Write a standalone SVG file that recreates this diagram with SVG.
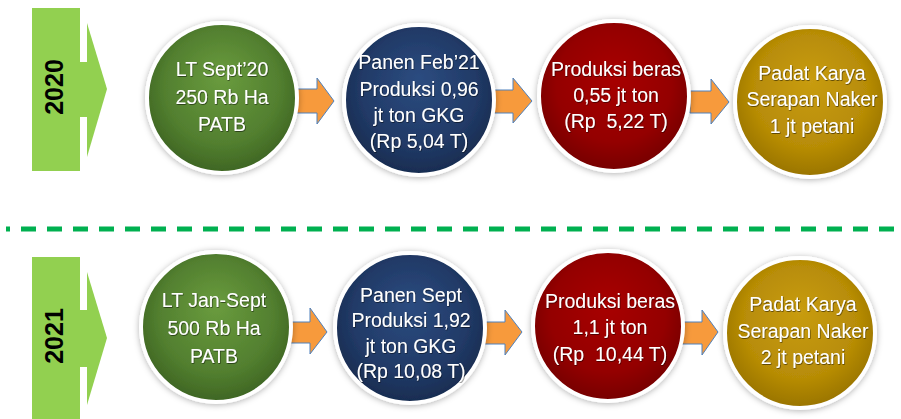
<svg xmlns="http://www.w3.org/2000/svg" width="901" height="419" viewBox="0 0 901 419">
<defs>
<radialGradient id="gGreen" cx="50%" cy="45%" r="55%" fx="50%" fy="35%">
<stop offset="0" stop-color="#6A9C3E"/><stop offset="0.7" stop-color="#527F2F"/><stop offset="1" stop-color="#3E6523"/>
</radialGradient>
<radialGradient id="gBlue" cx="50%" cy="45%" r="55%" fx="50%" fy="35%">
<stop offset="0" stop-color="#2C4C80"/><stop offset="0.7" stop-color="#213A67"/><stop offset="1" stop-color="#182C50"/>
</radialGradient>
<radialGradient id="gRed" cx="50%" cy="45%" r="55%" fx="50%" fy="35%">
<stop offset="0" stop-color="#A80404"/><stop offset="0.7" stop-color="#940000"/><stop offset="1" stop-color="#760000"/>
</radialGradient>
<radialGradient id="gGold" cx="50%" cy="45%" r="55%" fx="50%" fy="35%">
<stop offset="0" stop-color="#C89C12"/><stop offset="0.7" stop-color="#B78C06"/><stop offset="1" stop-color="#997400"/>
</radialGradient>
<filter id="shadow" x="-20%" y="-20%" width="140%" height="140%">
<feDropShadow dx="0" dy="1" stdDeviation="3" flood-color="#000" flood-opacity="0.3"/>
</filter>
<filter id="tshadow" x="-10%" y="-10%" width="120%" height="130%">
<feDropShadow dx="0.6" dy="0.8" stdDeviation="0.6" flood-color="#000" flood-opacity="0.6"/>
</filter>
</defs>
<style>
.ring{stroke:#FFFFFF;stroke-width:4;filter:url(#shadow)}
.lbl{font-family:"Liberation Sans",Arial,sans-serif;font-size:19.5px;fill:#FFFFFF;text-anchor:middle;filter:url(#tshadow)}
.year{font-family:"Liberation Sans",Arial,sans-serif;font-size:25px;font-weight:bold;fill:#000000;text-anchor:middle}
.band{fill:#92D050}
.arr{fill:#F79A3C;stroke:#4F81BD;stroke-width:1;stroke-linejoin:miter}
.sep{stroke:#00B050;stroke-width:5;stroke-dasharray:15 11;fill:none}
</style>
<rect width="901" height="419" fill="#FFFFFF"/>

<g id="year-2020">
<rect class="band" x="32" y="8" width="48" height="163"/>
<rect class="band" x="79" y="62" width="9" height="55"/>
<polygon class="band" points="87,23 107,89 87,157"/>
<text class="year" transform="translate(63,87) rotate(-90)">2020</text>
</g>
<g id="year-2021">
<rect class="band" x="32" y="257" width="48" height="162"/>
<rect class="band" x="79" y="310" width="9" height="57"/>
<polygon class="band" points="87,272 107,338 87,405"/>
<text class="year" transform="translate(63,336) rotate(-90)">2021</text>
</g>

<g id="separator">
<line class="sep" x1="6" y1="229" x2="896" y2="229" stroke-dashoffset="11"/>
</g>

<g id="connectors">
<polygon class="arr" points="296,89 317,89 317,78 334,101 317,124 317,113 296,113"/>
<polygon class="arr" points="492,90 513,90 513,78 532,101 513,123 513,113 492,113"/>
<polygon class="arr" points="690,91 711,91 711,79 729,102 711,124 711,113 690,113"/>
<polygon class="arr" points="288,322 310,322 310,308 327,332 310,354 310,343 288,343"/>
<polygon class="arr" points="482,322 505,322 505,310 522,332 505,355 505,344 482,344"/>
<polygon class="arr" points="681,322 702,322 702,310 718,332 702,355 702,344 681,344"/>
</g>

<g id="n2020-lahan">
<circle class="ring" cx="222" cy="98" r="75" fill="url(#gGreen)"/>
<text class="lbl" x="222" y="76">LT Sept’20</text>
<text class="lbl" x="222" y="104">250 Rb Ha</text>
<text class="lbl" x="222" y="131">PATB</text>
</g>
<g id="n2020-panen">
<circle class="ring" cx="419" cy="100" r="75" fill="url(#gBlue)"/>
<text class="lbl" x="419" y="69">Panen Feb’21</text>
<text class="lbl" x="419" y="96">Produksi 0,96</text>
<text class="lbl" x="419" y="122">jt ton GKG</text>
<text class="lbl" x="419" y="148">(Rp 5,04 T)</text>
</g>
<g id="n2020-beras">
<circle class="ring" cx="614" cy="96" r="75" fill="url(#gRed)"/>
<text class="lbl" x="616" y="76">Produksi beras</text>
<text class="lbl" x="616" y="102">0,55 jt ton</text>
<text class="lbl" x="616" y="128" xml:space="preserve">(Rp  5,22 T)</text>
</g>
<g id="n2020-padatkarya">
<circle class="ring" cx="810" cy="102" r="75" fill="url(#gGold)"/>
<text class="lbl" x="812" y="80">Padat Karya</text>
<text class="lbl" x="812" y="106">Serapan Naker</text>
<text class="lbl" x="812" y="133">1 jt petani</text>
</g>

<g id="n2021-lahan">
<circle class="ring" cx="216" cy="327" r="75" fill="url(#gGreen)"/>
<text class="lbl" x="214" y="307">LT Jan-Sept</text>
<text class="lbl" x="214" y="335">500 Rb Ha</text>
<text class="lbl" x="214" y="363">PATB</text>
</g>
<g id="n2021-panen">
<circle class="ring" cx="410" cy="328" r="75" fill="url(#gBlue)"/>
<text class="lbl" x="411" y="302">Panen Sept</text>
<text class="lbl" x="411" y="327">Produksi 1,92</text>
<text class="lbl" x="411" y="353">jt ton GKG</text>
<text class="lbl" x="411" y="378">(Rp 10,08 T)</text>
</g>
<g id="n2021-beras">
<circle class="ring" cx="608" cy="326" r="75" fill="url(#gRed)"/>
<text class="lbl" x="610" y="308">Produksi beras</text>
<text class="lbl" x="610" y="334">1,1 jt ton</text>
<text class="lbl" x="610" y="361" xml:space="preserve">(Rp  10,44 T)</text>
</g>
<g id="n2021-padatkarya">
<circle class="ring" cx="800" cy="333" r="75" fill="url(#gGold)"/>
<text class="lbl" x="803" y="311">Padat Karya</text>
<text class="lbl" x="803" y="338">Serapan Naker</text>
<text class="lbl" x="803" y="364">2 jt petani</text>
</g>
</svg>
